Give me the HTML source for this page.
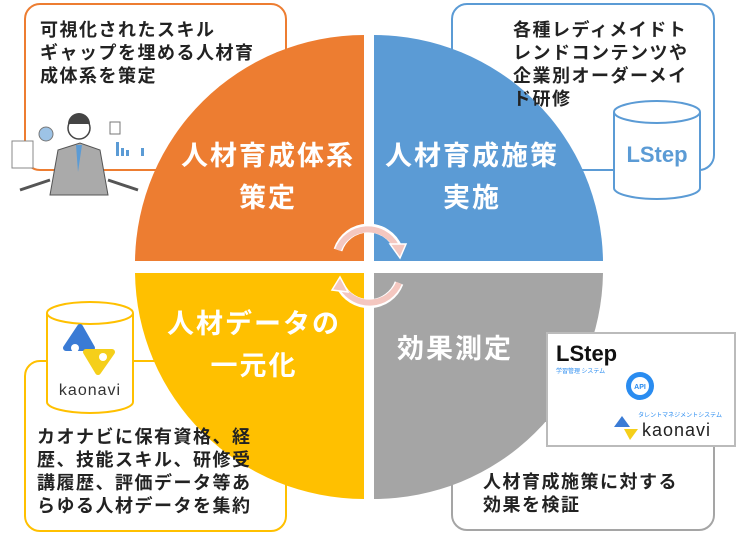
<!DOCTYPE html>
<html><head><meta charset="utf-8"><style>
body{margin:0;width:736px;height:557px;background:#fff;overflow:hidden;position:relative;font-family:"Liberation Sans","Noto Sans CJK JP",sans-serif}
.box{position:absolute;border:2px solid;border-radius:16px;background:#fff;box-sizing:border-box}
.t{position:absolute;font-size:18px;line-height:23px;color:#222;font-weight:bold;letter-spacing:1.5px;white-space:nowrap}
.q{position:absolute;color:#fff;font-size:27px;font-weight:bold;text-align:center;line-height:42px;letter-spacing:2px;white-space:nowrap}
</style></head><body>
<div class="box" style="left:24px;top:3px;width:263px;height:168px;border-color:#ed7d31"></div>
<div class="box" style="left:451px;top:3px;width:264px;height:168px;border-color:#5b9bd5"></div>
<div class="box" style="left:24px;top:360px;width:263px;height:172px;border-color:#ffc000"></div>
<div class="box" style="left:451px;top:420px;width:264px;height:111px;border-color:#a5a5a5"></div>
<svg width="736" height="557" style="position:absolute;left:0;top:0">
<path d="M364,261 L364,35 A229,229 0 0 0 135,261 Z" fill="#ed7d31"/>
<path d="M374,261 L374,35 A229,229 0 0 1 603,261 Z" fill="#5b9bd5"/>
<path d="M364,273 L364,499 A229,229 0 0 1 135,273 Z" fill="#ffc000"/>
<path d="M374,273 L374,499 A229,229 0 0 0 603,273 Z" fill="#a5a5a5"/>
<g fill="none" stroke="#fff" stroke-width="9">
<path d="M338,250 A32,32 0 0 1 398,248"/><path d="M399,283 A32,32 0 0 1 340,285"/></g>
<g fill="none" stroke="#f4c7c0" stroke-width="6">
<path d="M338,250 A32,32 0 0 1 396,246"/><path d="M399,283 A32,32 0 0 1 342,287"/></g>
<path d="M390,244 L406,244 L400,258 Z" fill="#f4c7c0" stroke="#fff" stroke-width="1.5"/>
<path d="M348,292 L332,290 L340,277 Z" fill="#f4c7c0" stroke="#fff" stroke-width="1.5"/>
<g stroke="#5b9bd5" stroke-width="2" fill="#fff">
<path d="M614,112 L614,188 A43,11 0 0 0 700,188 L700,112"/>
<ellipse cx="657" cy="112" rx="43" ry="11"/></g>
<text x="657" y="162" font-size="22" font-weight="bold" fill="#5b9bd5" text-anchor="middle" font-family="Liberation Sans">LStep</text>
<g stroke="#ffc000" stroke-width="2" fill="#fff">
<path d="M47,313 L47,402 A43,11 0 0 0 133,402 L133,313"/>
<ellipse cx="90" cy="313" rx="43" ry="11"/></g>
<path d="M66,348 L80,327 L92,348 Z" fill="#3a7bd5" stroke="#3a7bd5" stroke-width="6" stroke-linejoin="round"/>
<path d="M86,352 L112,352 L98,372 Z" fill="#f5cf1a" stroke="#f5cf1a" stroke-width="6" stroke-linejoin="round"/>
<circle cx="75" cy="348" r="4" fill="#fff"/><circle cx="103" cy="357" r="4" fill="#fff"/>
<text x="90" y="395" font-size="16" fill="#333" text-anchor="middle" font-family="Liberation Sans" letter-spacing="1">kaonavi</text>
<rect x="12" y="141" width="21" height="27" fill="#fff" stroke="#888"/>
<path d="M50,195 L58,150 L80,143 L100,150 L108,195 Z" fill="#aaa" stroke="#555"/>
<path d="M76,145 L78,172 L82,145 Z" fill="#5b9bd5"/>
<circle cx="79" cy="128" r="11" fill="#fff" stroke="#444" stroke-width="1.5"/>
<path d="M68,124 A11,11 0 0 1 90,124 Z" fill="#444"/>
<path d="M20,190 L50,180 M108,180 L138,190" stroke="#555" stroke-width="3"/>
<circle cx="46" cy="134" r="7" fill="#9dc3e6" stroke="#777"/>
<rect x="110" y="122" width="10" height="12" fill="#fff" stroke="#777"/>
<g fill="#5b9bd5"><rect x="116" y="142" width="3" height="14"/><rect x="121" y="148" width="3" height="8"/><rect x="126" y="150" width="3" height="6"/><rect x="141" y="148" width="3" height="8"/></g>
<rect x="547" y="333" width="188" height="113" fill="#fff" stroke="#bbb" stroke-width="2"/>
<text x="556" y="361" font-size="22" font-weight="bold" fill="#111" font-family="Liberation Sans">LStep</text>
<text x="556" y="373" font-size="6" fill="#2a8cf0" font-family="Noto Sans CJK JP">学習管理 システム</text>
<circle cx="640" cy="386" r="14" fill="#2a8cf0"/><circle cx="640" cy="386" r="9" fill="#fff"/>
<text x="640" y="389" font-size="7" font-weight="bold" fill="#2a8cf0" text-anchor="middle" font-family="Liberation Sans">API</text>
<text x="722" y="417" font-size="6" fill="#2a8cf0" text-anchor="end" font-family="Noto Sans CJK JP">タレントマネジメントシステム</text>
<path d="M614,427 L622,416 L630,427 Z" fill="#3a7bd5"/><path d="M624,429 L638,429 L630,440 Z" fill="#f5cf1a"/>
<text x="642" y="436" font-size="18" fill="#222" font-family="Liberation Sans" letter-spacing="1">kaonavi</text>
</svg>
<div class="t" style="left:40px;top:19px">可視化されたスキル<br>ギャップを埋める人材育<br>成体系を策定</div>
<div class="t" style="left:513px;top:19px">各種レディメイドト<br>レンドコンテンツや<br>企業別オーダーメイ<br>ド研修</div>
<div class="t" style="left:37px;top:426px">カオナビに保有資格、経<br>歴、技能スキル、研修受<br>講履歴、評価データ等あ<br>らゆる人材データを集約</div>
<div class="t" style="left:483px;top:471px">人材育成施策に対する<br>効果を検証</div>
<div class="q" style="left:168px;top:135px;width:200px">人材育成体系<br>策定</div>
<div class="q" style="left:372px;top:135px;width:200px">人材育成施策<br>実施</div>
<div class="q" style="left:154px;top:303px;width:200px">人材データの<br>一元化</div>
<div class="q" style="left:385px;top:328px;width:140px">効果測定</div>
</body></html>
